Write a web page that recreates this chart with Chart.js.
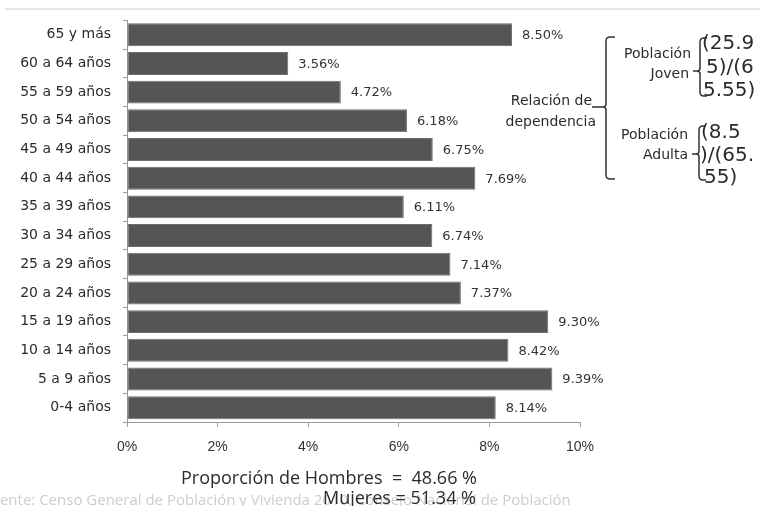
<!DOCTYPE html>
<html lang="es">
<head>
<meta charset="utf-8">
<title>Población masculina por grupo de edad</title>
<script src="https://cdn.jsdelivr.net/npm/chart.js@4.4.1/dist/chart.umd.min.js"></script>
<style>
  html, body { margin: 0; padding: 0; background: #fff; }
  #wrap { position: relative; width: 764px; height: 506px; overflow: hidden; }
  canvas { display: block; }
</style>
</head>
<body>
<div id="wrap"><canvas id="piramide" width="764" height="506"></canvas></div>
<script>
// grupos de edad, de mayor a menor como en la gráfica
const ageGroups = ['65 y más', '60 a 64 años', '55 a 59 años', '50 a 54 años', '45 a 49 años',
  '40 a 44 años', '35 a 39 años', '30 a 34 años', '25 a 29 años', '20 a 24 años',
  '15 a 19 años', '10 a 14 años', '5 a 9 años', '0-4 años'];
const malePct = [8.50, 3.56, 4.72, 6.18, 6.75, 7.69, 6.11, 6.74, 7.14, 7.37, 9.30, 8.42, 9.39, 8.14];
const xTicks = [0, 2, 4, 6, 8, 10];

const hombres = '48.66';
const mujeres = '51.34';

const BAR = '#555555';
const INK = '#2b2b2b';
const AXIS = '#9a9a9a';

// etiqueta de valor a la derecha de cada barra
const valueLabels = {
  id: 'valueLabels',
  afterDatasetsDraw(chart) {
    const c = chart.ctx;
    const meta = chart.getDatasetMeta(0);
    c.save();
    c.font = '13px "DejaVu Sans", sans-serif';
    c.fillStyle = '#333';
    c.textAlign = 'left';
    c.textBaseline = 'middle';
    meta.data.forEach((bar, i) => {
      c.fillText(malePct[i].toFixed(2) + '%', bar.x + 10, bar.y + 1);
    });
    c.restore();
  }
};

// corchete con esquinas suaves y un pico hacia la izquierda
function brace(c, x, top, bottom, mid, left, right) {
  const r = 4;
  c.beginPath();
  c.moveTo(right, top);
  c.lineTo(x + r, top);
  c.quadraticCurveTo(x, top, x, top + r);
  c.lineTo(x, mid - 3);
  c.quadraticCurveTo(x, mid, x - 3, mid);
  c.lineTo(left, mid);
  c.moveTo(x - 3, mid);
  c.quadraticCurveTo(x, mid, x, mid + 3);
  c.lineTo(x, bottom - r);
  c.quadraticCurveTo(x, bottom, x + r, bottom);
  c.lineTo(right, bottom);
  c.stroke();
}

// notas: relación de dependencia, proporciones y fuente
const notes = {
  id: 'notes',
  afterDraw(chart) {
    const c = chart.ctx;
    c.save();

    // línea gris superior
    c.strokeStyle = '#dedede';
    c.lineWidth = 1.5;
    c.beginPath();
    c.moveTo(5, 9);
    c.lineTo(760, 9);
    c.stroke();

    c.strokeStyle = '#333';
    c.lineWidth = 1.5;
    brace(c, 606, 37, 179, 107, 592, 615);
    brace(c, 700, 38, 96, 71, 693, 707);
    brace(c, 699, 126, 180, 154, 692, 706);

    c.fillStyle = INK;
    c.textBaseline = 'middle';
    c.font = '14px "DejaVu Sans", sans-serif';
    c.textAlign = 'right';
    c.fillText('Relación de', 592, 101);
    c.fillText('dependencia', 596, 122);
    c.fillText('Población', 691, 54);
    c.fillText('Joven', 689, 74);
    c.fillText('Población', 688, 135);
    c.fillText('Adulta', 688, 155);

    c.textAlign = 'left';
    c.font = '20px "DejaVu Sans", sans-serif';
    c.fillText('(25.9', 702, 44);
    c.fillText('5)/(6', 706, 68);
    c.fillText('5.55)', 703, 91);
    c.fillText('(8.5', 701, 133);
    c.fillText(')/(65.', 700, 156);
    c.fillText('55)', 704, 178);

    // fuente, muy tenue y cortada a la izquierda
    c.font = '15px "Open Sans", sans-serif';
    c.fillStyle = '#cdcdcd';
    c.textAlign = 'left';
    c.fillText('Fuente: Censo General de Población y Vivienda 2010, Consejo Nacional de Población', -17, 501);

    c.fillStyle = INK;
    c.font = '18px "Open Sans", sans-serif';
    c.textAlign = 'right';
    c.fillText('Proporción de Hombres  =  ' + hombres + ' %', 477, 479);
    c.fillText('Mujeres = ' + mujeres + ' %', 476, 499);

    c.restore();
  }
};

new Chart(document.getElementById('piramide'), {
  type: 'bar',
  data: {
    labels: ageGroups,
    datasets: [{
      data: malePct,
      backgroundColor: BAR,
      borderColor: '#6e6e6e',
      borderWidth: 1,
      borderSkipped: false,
      barPercentage: 0.8,
      categoryPercentage: 1
    }]
  },
  options: {
    indexAxis: 'y',
    responsive: false,
    animation: false,
    events: [],
    layout: { padding: { top: 17, right: 184, left: 0, bottom: 0 } },
    plugins: {
      legend: { display: false },
      tooltip: { enabled: false }
    },
    scales: {
      x: {
        min: 0,
        max: 10,
        afterBuildTicks(scale) { scale.ticks = xTicks.map(v => ({ value: v })); },
        afterFit(scale) { scale.height = 84; },
        ticks: {
          callback: v => v + '%',
          color: '#333',
          padding: 12,
          font: { family: '"Liberation Sans Narrow", "Liberation Sans", sans-serif', size: 14 }
        },
        grid: { drawOnChartArea: false, tickLength: 5, color: AXIS },
        border: { color: AXIS, width: 1 }
      },
      y: {
        afterFit(scale) { scale.width = 127; },
        ticks: {
          color: INK,
          padding: 12,
          font: { family: '"DejaVu Sans", sans-serif', size: 14 }
        },
        grid: { drawOnChartArea: false, tickLength: 4, color: AXIS },
        border: { color: AXIS, width: 1 }
      }
    }
  },
  plugins: [valueLabels, notes]
});
</script>
</body>
</html>
